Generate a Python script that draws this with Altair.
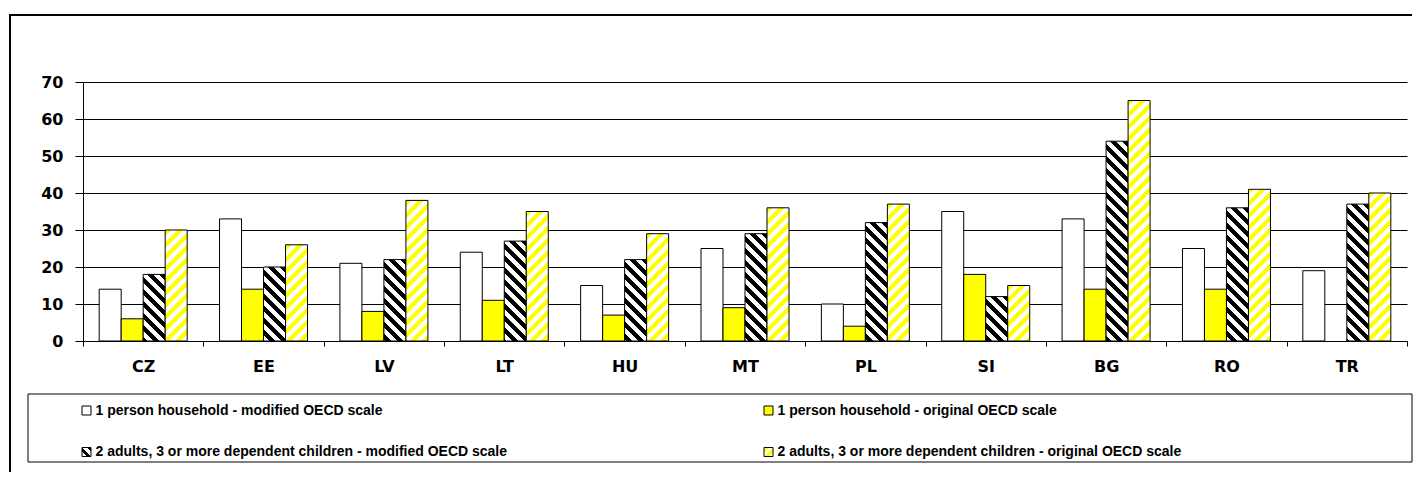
import altair as alt

# ---------------- data ----------------
countries = ["CZ", "EE", "LV", "LT", "HU", "MT", "PL", "SI", "BG", "RO", "TR"]
series_names = [
    "1 person household - modified OECD scale",
    "1 person household - original OECD scale",
    "2 adults, 3 or more dependent children - modified OECD scale",
    "2 adults, 3 or more dependent children - original OECD scale",
]
one_person_modified = [14, 33, 21, 24, 15, 25, 10, 35, 33, 25, 19]
one_person_original = [6, 14, 8, 11, 7, 9, 4, 18, 14, 14, None]
family_modified = [18, 20, 22, 27, 22, 29, 32, 12, 54, 36, 37]
family_original = [30, 26, 38, 35, 29, 36, 37, 15, 65, 41, 40]
y_ticks = [0, 10, 20, 30, 40, 50, 60, 70]

# ---------------- layout / style ----------------
PLOT_W, PLOT_H = 1324, 259
Y_MAX = 70
STEP = PLOT_W / len(countries)
BAR_W = 22
P_OUT = (STEP / BAR_W - 4) / 2
AXIS_FONT = "DejaVu Sans"
LEG_FONT = "Liberation Sans"
YELLOW = "#FFFF00"

# fill styles for each series: (kind, colour)
styles = [("solid", "white"), ("solid", YELLOW), ("back", "black"), ("fwd", YELLOW)]


def hatch(w, h, color, backslash, period=12.0, frac=0.5):
    """Linear gradient with hard stops that renders diagonal stripes."""
    r = w / h
    s = (w + h) * h / (h * h + w * w)
    if backslash:
        x1, y1, x2, y2 = 1, 0, 1 - s * r, s
    else:
        x1, y1, x2, y2 = 0, 0, s * r, s
    q = period / (w + h)
    stops = []
    a = 0.0
    while a < 1:
        b = min(a + frac * q, 1.0)
        c = min(a + q, 1.0)
        stops += [
            {"offset": round(a, 5), "color": color},
            {"offset": round(b, 5), "color": color},
            {"offset": round(b, 5), "color": "white"},
            {"offset": round(c, 5), "color": "white"},
        ]
        a += q
    return {"gradient": "linear", "x1": x1, "y1": y1, "x2": x2, "y2": y2, "stops": stops}


def paint(style, w, h, period=12.0, frac=0.5):
    kind, col = style
    if kind == "solid":
        return col
    return hatch(w, h, col, kind == "back", period, frac)


all_series = [one_person_modified, one_person_original, family_modified, family_original]
bar_rows = []
for si, vals in enumerate(all_series):
    for c, v in zip(countries, vals):
        if v is None:
            continue
        h = v * PLOT_H / Y_MAX
        bar_rows.append({"country": c, "series": series_names[si], "value": v,
                         "paint": paint(styles[si], BAR_W, h)})

legend_rows = []
for si, name in enumerate(series_names):
    legend_rows.append({"label": name, "col": si % 2, "row": si // 2,
                        "paint": paint(styles[si], 9, 9, period=9, frac=0.5)})

# ---------------- bars ----------------
bars = alt.Chart(alt.Data(values=bar_rows)).mark_bar(stroke="black", strokeWidth=1).encode(
    x=alt.X("country:N", sort=countries,
            scale=alt.Scale(domain=countries, paddingInner=0, paddingOuter=0),
            axis=alt.Axis(title=None, labelAngle=0, tickBand="extent", ticks=True, tickSize=5,
                          tickColor="black", domainColor="black", grid=False,
                          labelFont=AXIS_FONT, labelFontSize=16, labelFontWeight="bold",
                          labelColor="black", labelPadding=12)),
    xOffset=alt.XOffset("series:N",
                        scale=alt.Scale(domain=series_names, paddingInner=0, paddingOuter=P_OUT)),
    y=alt.Y("value:Q", scale=alt.Scale(domain=[0, Y_MAX], nice=False),
            axis=alt.Axis(title=None, values=y_ticks, grid=True, gridColor="black", gridWidth=1,
                          domainColor="black", tickColor="black", tickSize=8,
                          labelFont=AXIS_FONT, labelFontSize=16, labelFontWeight="bold",
                          labelColor="black", labelPadding=12)),
    fill=alt.Fill("paint:N", scale=None),
)

# ---------------- legend ----------------
leg_base = alt.Chart(alt.Data(values=legend_rows)).encode(
    x=alt.X("col:O", scale=alt.Scale(type="point", domain=[0, 1], range=[3.5, 685.5], padding=0),
            axis=None),
    y=alt.Y("row:O", scale=alt.Scale(type="point", domain=[0, 1], range=[328.5, 370], padding=0),
            axis=None),
)
leg_sym = leg_base.mark_square(size=81, stroke="black", strokeWidth=1, opacity=1).encode(
    fill=alt.Fill("paint:N", scale=None))
leg_txt = leg_base.mark_text(align="left", baseline="middle", dx=9, font=LEG_FONT, fontSize=14,
                             fontWeight="bold", color="black").encode(text="label:N")
legend = alt.layer(leg_sym, leg_txt)

# ---------------- decorations (frame + legend box) ----------------
one = alt.Data(values=[{}])
frame_left = alt.Chart(one).mark_rule(color="black", strokeWidth=2).encode(
    x=alt.value(-73), y=alt.value(-68), y2=alt.value(390))
frame_top = alt.Chart(one).mark_rule(color="black", strokeWidth=2).encode(
    x=alt.value(-74), x2=alt.value(1329), y=alt.value(-67))
legend_box = alt.Chart(one).mark_rect(fillOpacity=0, stroke="black", strokeWidth=1).encode(
    x=alt.value(-55), x2=alt.value(1329), y=alt.value(312), y2=alt.value(380))

chart = alt.layer(frame_left, frame_top, legend_box, bars, legend).resolve_scale(
    x="independent", y="independent"
).properties(
    width=PLOT_W, height=PLOT_H,
    padding={"left": 0, "top": 5, "right": 0, "bottom": 0},
    background="white",
).configure_view(strokeWidth=0)

chart.save("out.html", embed_options={"renderer": "svg", "actions": False})
